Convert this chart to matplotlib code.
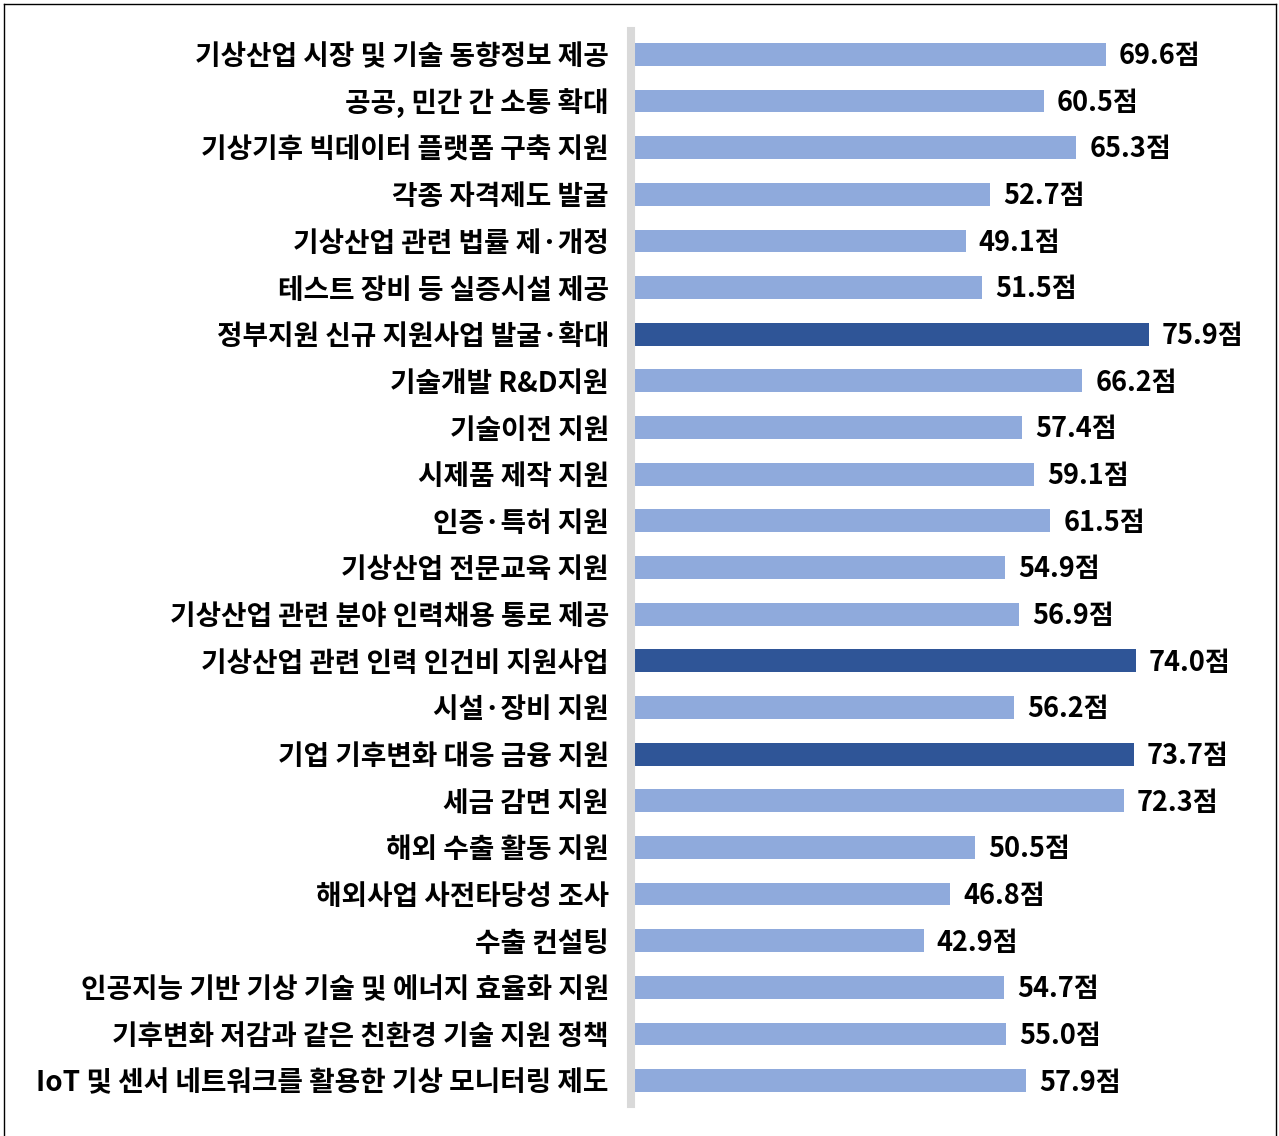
import matplotlib
matplotlib.use("Agg")
import matplotlib.pyplot as plt
from matplotlib.lines import Line2D

plt.rcParams['font.family'] = ['Noto Sans CJK KR', 'DejaVu Sans']

categories = [
    "기상산업 시장 및 기술 동향정보 제공",
    "공공, 민간 간 소통 확대",
    "기상기후 빅데이터 플랫폼 구축 지원",
    "각종 자격제도 발굴",
    "기상산업 관련 법률 제·개정",
    "테스트 장비 등 실증시설 제공",
    "정부지원 신규 지원사업 발굴·확대",
    "기술개발 R&D지원",
    "기술이전 지원",
    "시제품 제작 지원",
    "인증·특허 지원",
    "기상산업 전문교육 지원",
    "기상산업 관련 분야 인력채용 통로 제공",
    "기상산업 관련 인력 인건비 지원사업",
    "시설·장비 지원",
    "기업 기후변화 대응 금융 지원",
    "세금 감면 지원",
    "해외 수출 활동 지원",
    "해외사업 사전타당성 조사",
    "수출 컨설팅",
    "인공지능 기반 기상 기술 및 에너지 효율화 지원",
    "기후변화 저감과 같은 친환경 기술 지원 정책",
    "IoT 및 센서 네트워크를 활용한 기상 모니터링 제도",
]
values = [69.6, 60.5, 65.3, 52.7, 49.1, 51.5, 75.9, 66.2, 57.4, 59.1, 61.5, 54.9,
          56.9, 74.0, 56.2, 73.7, 72.3, 50.5, 46.8, 42.9, 54.7, 55.0, 57.9]
unit = "점"

W, H = 1279, 1136
fig = plt.figure(figsize=(W / 100, H / 100), dpi=100)

# axes placement in pixels
x0, x1 = 631, 1272
y_top, y_bot = 31, 1104
ax = fig.add_axes([x0 / W, 1 - y_bot / H, (x1 - x0) / W, (y_bot - y_top) / H])

top3 = sorted(values, reverse=True)[:3]
colors = ["#2F5597" if v in top3 else "#8FAADC" for v in values]
pos = list(range(len(categories)))
ax.barh(pos, values, height=0.49, color=colors, zorder=2)
ax.set_ylim(len(categories) - 0.5, -0.5)
ax.set_xlim(0, (x1 - x0) / 6.82)

for p, v in zip(pos, values):
    ax.text(v + 1.9, p + 0.04, f"{v:.1f}{unit}", va="center", ha="left",
            fontsize=19.5, fontweight="bold", color="#000000")

ax.set_yticks(pos)
ax.set_yticklabels(categories, fontsize=20, fontweight="bold")
ax.tick_params(axis="y", length=0, pad=16)
ax.set_xticks([])
for s in ["top", "right", "bottom"]:
    ax.spines[s].set_visible(False)
ax.spines["left"].set_color("#D9D9D9")
ax.spines["left"].set_linewidth(5.8)

# figure border (left, top, right)
lw = 1.0
fig.add_artist(Line2D([3.5 / W, 3.5 / W], [0, 1 - 3.5 / H], color="black", lw=lw))
fig.add_artist(Line2D([3.5 / W, 1 - 3.5 / W], [1 - 3.5 / H, 1 - 3.5 / H], color="black", lw=lw))
fig.add_artist(Line2D([1 - 3.5 / W, 1 - 3.5 / W], [0, 1 - 3.5 / H], color="black", lw=lw))

fig.savefig("out.png", dpi=100)
